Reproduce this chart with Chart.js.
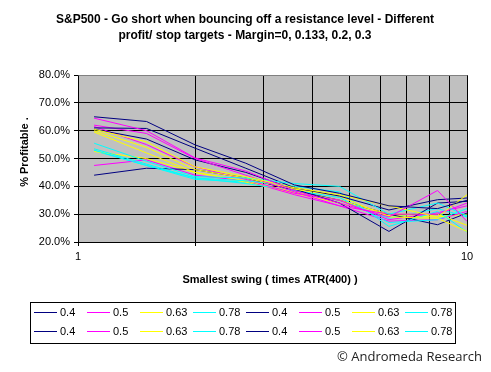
<!DOCTYPE html>
<html>
<head>
<meta charset="utf-8">
<script src="https://cdn.jsdelivr.net/npm/chart.js@4/dist/chart.umd.min.js"></script>
<style>
  html, body { margin: 0; padding: 0; background: #fff; }
  #wrap { width: 491px; height: 372px; position: relative; }
</style>
</head>
<body>
<div id="wrap"><canvas id="chart" width="491" height="372"></canvas></div>
<script>
// smallest swing (times ATR(400))
const swings = [1.1, 1.5, 2.0, 2.7, 3.6, 4.7, 6.3, 8.4, 10];

const seriesLabels = ['0.4', '0.5', '0.63', '0.78', '0.4', '0.5', '0.63', '0.78',
                      '0.4', '0.5', '0.63', '0.78', '0.4', '0.5', '0.63', '0.78'];
const seriesColors = ['#000080', '#FF00FF', '#FFFF00', '#00FFFF'];

// % profitable
const s01 = [65.0, 63.3, 54.9, 48.3, 40.5, 37.5, 33.0, 32.0, 35.0];
const s02 = [64.5, 60.0, 50.2, 45.5, 38.5, 34.0, 29.0, 38.5, 27.4];
const s03 = [60.5, 56.0, 47.0, 43.5, 39.5, 37.0, 33.0, 29.0, 37.0];
const s04 = [55.5, 49.0, 43.5, 43.0, 41.0, 40.0, 30.0, 34.0, 29.4];
const s05 = [61.0, 60.8, 53.7, 46.5, 39.5, 36.5, 31.5, 35.2, 35.8];
const s06 = [62.0, 59.0, 50.0, 44.0, 38.0, 33.0, 30.0, 30.0, 34.0];
const s07 = [60.0, 54.0, 46.0, 43.0, 39.0, 36.5, 29.0, 28.5, 23.8];
const s08 = [53.5, 48.0, 43.0, 42.0, 40.0, 38.0, 25.6, 31.0, 23.6];
const s09 = [60.5, 57.0, 49.5, 45.0, 39.0, 34.0, 23.8, 34.0, 34.6];
const s10 = [61.5, 55.0, 47.0, 42.5, 37.5, 35.0, 28.0, 30.5, 33.0];
const s11 = [59.5, 52.0, 45.0, 42.0, 38.0, 35.0, 30.0, 30.0, 26.0];
const s12 = [53.0, 47.5, 43.0, 41.0, 38.5, 36.0, 27.0, 28.0, 32.0];
const s13 = [44.0, 46.5, 46.0, 43.0, 38.5, 35.0, 30.0, 26.2, 30.4];
const s14 = [47.5, 49.5, 44.0, 42.0, 37.0, 33.0, 27.5, 28.0, 31.0];
const s15 = [52.5, 50.0, 45.0, 41.5, 37.5, 34.0, 29.5, 29.0, 30.0];
const s16 = [52.8, 47.5, 42.5, 41.5, 38.0, 35.0, 28.5, 32.0, 29.0];

const allSeries = [s01, s02, s03, s04, s05, s06, s07, s08, s09, s10, s11, s12, s13, s14, s15, s16];

const xTicks = [1, 2, 3, 4, 5, 6, 7, 8, 9, 10];
const yTicks = [20, 30, 40, 50, 60, 70, 80];

const FONT = 'Arial, "Liberation Sans", sans-serif';

let datasets = allSeries.map((vals, i) => ({
  label: seriesLabels[i],
  data: vals.map((v, j) => ({ x: swings[j], y: v })),
  borderColor: seriesColors[i % 4],
  borderWidth: 1,
  pointRadius: 0,
  tension: 0,
  fill: false
}));

// gray plot area, titles, legend, credit
const decor = {
  id: 'decor',
  beforeDraw(chart) {
    const { ctx, chartArea: a } = chart;
    ctx.save();
    ctx.fillStyle = '#C0C0C0';
    ctx.fillRect(a.left, a.top, a.right - a.left, a.bottom - a.top);
    ctx.restore();
  },
  afterDraw(chart) {
    const { ctx, chartArea: a } = chart;
    ctx.save();
    // plot border top/right
    ctx.strokeStyle = '#808080';
    ctx.lineWidth = 1;
    ctx.beginPath();
    ctx.moveTo(Math.round(a.left) + 0.5, Math.round(a.top) + 0.5);
    ctx.lineTo(Math.round(a.right) + 0.5, Math.round(a.top) + 0.5);
    ctx.stroke();

    ctx.fillStyle = '#000';
    ctx.textAlign = 'center';
    ctx.textBaseline = 'middle';
    ctx.font = 'bold 12px ' + FONT;
    ctx.fillText('S&P500 - Go short when bouncing off a resistance level - Different', 245, 20);
    ctx.fillText('profit/ stop targets - Margin=0, 0.133, 0.2, 0.3', 245, 36);

    ctx.font = 'bold 11px ' + FONT;
    ctx.fillText('Smallest swing ( times ATR(400) )', 270, 280);

    ctx.save();
    ctx.translate(25, 152);
    ctx.rotate(-Math.PI / 2);
    ctx.fillText('% Profitable .', 0, 0);
    ctx.restore();

    // legend
    ctx.strokeStyle = '#000';
    ctx.strokeRect(30.5, 302.5, 425, 41);
    ctx.font = '11px ' + FONT;
    ctx.textAlign = 'left';
    chart.data.datasets.forEach((ds, i) => {
      const row = Math.floor(i / 8), col = i % 8;
      const x0 = 34 + col * 53;
      const y0 = 312.5 + row * 19;
      ctx.strokeStyle = ds.borderColor;
      ctx.lineWidth = 1;
      ctx.beginPath();
      ctx.moveTo(x0, y0);
      ctx.lineTo(x0 + 23, y0);
      ctx.stroke();
      ctx.fillStyle = '#000';
      ctx.fillText(ds.label, x0 + 26, y0 + 0.5);
    });

    ctx.font = '13px "Open Sans", sans-serif';
    ctx.fillStyle = '#222';
    ctx.textAlign = 'right';
    ctx.fillText('\u00A9 Andromeda Research', 482, 357);
    ctx.restore();
  }
};

let canvas = document.getElementById('chart');
let myChart = new Chart(canvas, {
  type: 'line',
  data: { datasets: datasets },
  plugins: [decor],
  options: {
    responsive: false,
    animation: false,
    layout: { padding: { top: 75, right: 24, left: 0, bottom: 0 } },
    plugins: { legend: { display: false }, title: { display: false }, tooltip: { enabled: false } },
    scales: {
      x: {
        type: 'logarithmic',
        min: 1,
        max: 10,
        afterFit: (s) => { s.height = 130; },
        afterBuildTicks: (s) => { s.ticks = xTicks.map(v => ({ value: v })); },
        border: { color: '#000', width: 1 },
        grid: { color: '#000', lineWidth: 1, tickLength: 4, drawTicks: true },
        ticks: {
          autoSkip: false,
          maxRotation: 0,
          padding: 4,
          color: '#000',
          font: { family: FONT, size: 11 },
          callback: (v) => (v === 1 || v === 10) ? String(v) : ''
        }
      },
      y: {
        min: 20,
        max: 80,
        afterFit: (s) => { s.width = 78; },
        afterBuildTicks: (s) => { s.ticks = yTicks.map(v => ({ value: v })); },
        border: { color: '#000', width: 1 },
        grid: { color: '#000', lineWidth: 1, tickLength: 4 },
        ticks: {
          padding: 4,
          color: '#000',
          font: { family: FONT, size: 11 },
          callback: (v) => v.toFixed(1) + '%'
        }
      }
    }
  }
});
</script>
</body>
</html>
